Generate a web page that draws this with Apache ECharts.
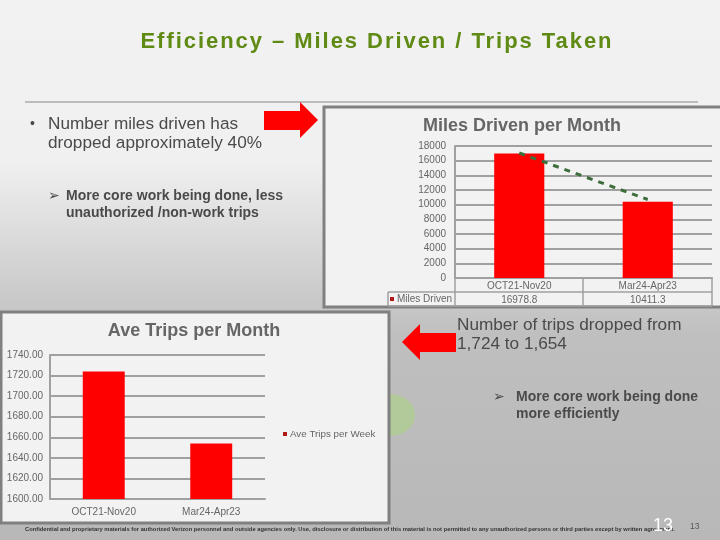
<!DOCTYPE html>
<html>
<head>
<meta charset="utf-8">
<script src="https://cdn.jsdelivr.net/npm/echarts@6/dist/echarts.min.js"></script>
<style>
    html, body { margin: 0; padding: 0; }
    #main { position: absolute; left: 0; top: 0; width: 720px; height: 540px; }
    #heading {
        position: absolute; left: 0; top: 28px; width: 754px; text-align: center;
        font: bold 22px "Liberation Sans"; letter-spacing: 1.95px; color: #5f8a14;
    }
</style>
</head>
<body>
<div id="main"></div>
<div id="heading">Efficiency – Miles Driven / Trips Taken</div>
<script>
    var milesCategories = ['OCT21-Nov20', 'Mar24-Apr23'];
    var milesValues = [16978.8, 10411.3];
    var milesTrend = [17050, 10700];
    var tripsCategories = ['OCT21-Nov20', 'Mar24-Apr23'];
    var tripsValues = [1724, 1654];

    var font = 'Liberation Sans';
    var textGrey = '#666666';
    var darkText = '#4a4a4a';
    var lineGrey = '#a0a0a0';

    function label(x, y, text, size, weight, color, extra) {
        var style = {
            x: x, y: y, text: text, fontFamily: font, fontSize: size,
            fontWeight: weight, fill: color, verticalAlign: 'middle'
        };
        for (var k in extra) style[k] = extra[k];
        return {type: 'text', z: 5, style: style};
    }

    function panel(x, y, w, h) {
        return {type: 'rect', z: -1, shape: {x: x, y: y, width: w, height: h},
            style: {fill: '#f2f2f2', stroke: '#808080', lineWidth: 3}};
    }

    function rule(x1, y1, x2, y2, color, width) {
        return {type: 'line', z: 1, shape: {x1: x1, y1: y1, x2: x2, y2: y2},
            style: {stroke: color || lineGrey, lineWidth: width || 1.5}};
    }

    function arrow(points) {
        return {type: 'polygon', z: 6, shape: {points: points}, style: {fill: '#ff0000'}};
    }

    var chart = echarts.init(document.getElementById('main'), null, {renderer: 'canvas'});

    chart.setOption({
        animation: false,
        backgroundColor: new echarts.graphic.LinearGradient(0, 0, 0, 1, [
            {offset: 0, color: '#f2f2f2'},
            {offset: 0.3, color: '#f0f0f0'},
            {offset: 0.62, color: '#bfbfbf'},
            {offset: 1, color: '#b8b8b8'}
        ]),
        grid: [
            {left: 455, top: 146, width: 257, height: 132},
            {left: 50, top: 355, width: 215, height: 144}
        ],
        xAxis: [
            {
                type: 'category', gridIndex: 0, data: milesCategories,
                axisLine: {lineStyle: {color: lineGrey, width: 2}},
                axisTick: {show: false},
                axisLabel: {
                    margin: 1, fontFamily: font, fontSize: 10, color: textGrey, lineHeight: 14,
                    formatter: function (value, index) {
                        return value + '\n' + milesValues[index].toFixed(1);
                    }
                }
            },
            {
                type: 'category', gridIndex: 1, data: tripsCategories,
                axisLine: {lineStyle: {color: lineGrey, width: 2}},
                axisTick: {show: false},
                axisLabel: {margin: 8, fontFamily: font, fontSize: 10, color: textGrey}
            }
        ],
        yAxis: [
            {
                type: 'value', gridIndex: 0, min: 0, max: 18000, interval: 2000,
                axisLine: {show: true, lineStyle: {color: lineGrey, width: 2}},
                axisTick: {show: false},
                splitLine: {lineStyle: {color: lineGrey, width: 2}},
                axisLabel: {
                    margin: 9, fontFamily: font, fontSize: 10, color: textGrey,
                    formatter: function (value) { return String(value); }
                }
            },
            {
                type: 'value', gridIndex: 1, min: 1600, max: 1740, interval: 20,
                axisLine: {show: true, lineStyle: {color: lineGrey, width: 2}},
                axisTick: {show: false},
                splitLine: {lineStyle: {color: lineGrey, width: 2}},
                axisLabel: {
                    margin: 7, fontFamily: font, fontSize: 10, color: textGrey,
                    formatter: function (value) { return value.toFixed(2); }
                }
            }
        ],
        legend: [
            {
                left: 390, top: 294, itemWidth: 4, itemHeight: 4, icon: 'rect', itemGap: 0,
                data: [{name: 'Miles Driven', itemStyle: {color: '#b01818'}}],
                textStyle: {fontFamily: font, fontSize: 10, color: textGrey, padding: [0, 0, 0, -2]},
                padding: 0
            },
            {
                left: 283, top: 429, itemWidth: 4, itemHeight: 4, icon: 'rect', itemGap: 0,
                data: [{name: 'Ave Trips per Week', itemStyle: {color: '#b01818'}}],
                textStyle: {fontFamily: font, fontSize: 9.8, color: textGrey, padding: [0, 0, 0, -2]},
                padding: 0
            }
        ],
        series: [
            {
                name: 'Miles Driven', type: 'bar', xAxisIndex: 0, yAxisIndex: 0,
                barWidth: '39%', data: milesValues, itemStyle: {color: '#ff0000'}
            },
            {
                name: 'Miles trend', type: 'line', xAxisIndex: 0, yAxisIndex: 0, z: 4,
                data: milesTrend, symbol: 'none',
                lineStyle: {color: '#3c6e3c', width: 3, type: [6, 6]}
            },
            {
                name: 'Ave Trips per Week', type: 'bar', xAxisIndex: 1, yAxisIndex: 1,
                barWidth: '39%', data: tripsValues, itemStyle: {color: '#ff0000'}
            }
        ],
        graphic: [
            {type: 'ellipse', z: -2, shape: {cx: 390, cy: 415, rx: 25, ry: 21}, style: {fill: '#b2c99a'}},
            rule(25, 102, 698, 102, '#aaaaaa', 1.5),
            panel(324, 107, 400, 200),
            panel(1, 312, 388, 211),
            // data table under the miles chart
            rule(455, 278, 455, 306),
            rule(583, 278, 583, 306),
            rule(712, 278, 712, 306),
            rule(388, 292, 712, 292),
            rule(388, 306, 712, 306),
            rule(388, 292, 388, 306),
            arrow([[264, 111], [300, 111], [300, 102], [318, 120], [300, 138], [300, 130], [264, 130]]),
            arrow([[456, 333], [420, 333], [420, 324], [402, 342], [420, 360], [420, 352], [456, 352]]),
            label(522, 126, 'Miles Driven per Month', 18, 'bold', textGrey, {align: 'center'}),
            label(194, 331, 'Ave Trips per Month', 18, 'bold', textGrey, {align: 'center'}),
            label(30, 124, '•', 14, 'normal', darkText),
            label(48, 124, 'Number miles driven has', 17.2, 'normal', darkText),
            label(48, 143, 'dropped approximately 40%', 17.2, 'normal', darkText),
            label(48, 196, '➢', 14, 'normal', darkText, {fontFamily: 'DejaVu Sans'}),
            label(66, 196, 'More core work being done, less', 14, 'bold', darkText),
            label(66, 213, 'unauthorized /non-work trips', 14, 'bold', darkText),
            label(457, 325, 'Number of trips dropped from', 17.2, 'normal', darkText),
            label(457, 344, '1,724 to 1,654', 17.2, 'normal', darkText),
            label(493, 397, '➢', 14, 'normal', darkText, {fontFamily: 'DejaVu Sans'}),
            label(516, 397, 'More core work being done', 14, 'bold', darkText),
            label(516, 414, 'more efficiently', 14, 'bold', darkText),
            label(25, 529, 'Confidential and proprietary materials for authorized Verizon personnel and outside agencies only. Use, disclosure or distribution of this material is not permitted to any unauthorized persons or third parties except by written agreement.', 5.8, 'bold', '#333333'),
            label(653, 526, '13', 18, 'normal', '#ffffff'),
            label(690, 527, '13', 8.5, 'normal', '#555555')
        ]
    });
</script>
</body>
</html>
